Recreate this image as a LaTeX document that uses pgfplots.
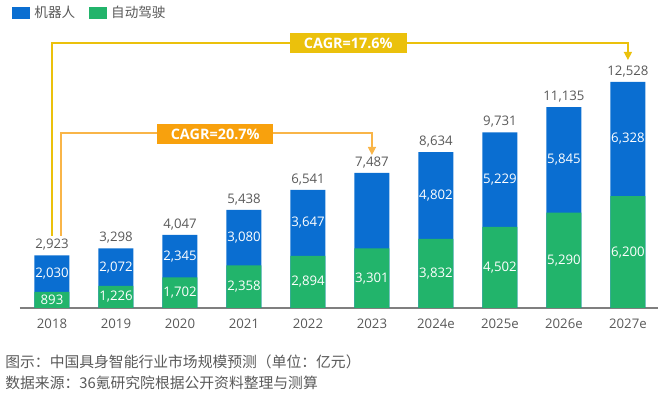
\documentclass[border=0pt]{standalone}
\usepackage{fontspec}
\usepackage{pgfplots}
\usepackage{pgfplotstable}
\pgfplotsset{compat=1.18}
\usetikzlibrary{arrows.meta}
\setmainfont{Open Sans}
\newfontfamily\cjk{Noto Sans CJK SC}
\definecolor{cBlue}{HTML}{0A6ED1}
\definecolor{cGreen}{HTML}{22B46B}
\definecolor{cGray}{HTML}{595959}
\definecolor{cAxis}{HTML}{7F7F7F}
\definecolor{cYellow}{HTML}{EBC10C}
\definecolor{cOrange}{HTML}{F8A10D}
\definecolor{cOrangeL}{HTML}{F9B548}

\pgfplotstableread{
x g b t
0 893 2030 2923
1 1226 2072 3298
2 1702 2345 4047
3 2358 3080 5438
4 2894 3647 6541
5 3301 4186 7487
6 3832 4802 8634
7 4502 5229 9731
8 5290 5845 11135
9 6200 6328 12528
}\datatable

\begin{document}
\begin{tikzpicture}
\begin{axis}[
  scale only axis,
  width=319pt, height=144pt,
  xmin=-0.5, xmax=9.47,
  ymin=0, ymax=15965,
  clip=false,
  axis y line=none,
  axis x line=bottom,
  x axis line style={-, cAxis, line width=1pt},
  xtick={0,...,9},
  xticklabels={2018,2019,2020,2021,2022,2023,2024e,2025e,2026e,2027e},
  major tick length=0pt,
  xticklabel style={text=cGray, font=\fontsize{6.6}{8}\selectfont, yshift=-2pt},
  /pgf/number format/.cd, 1000 sep={,}, assume math mode=true,
  /pgfplots/.cd,
  legend style={draw=none, fill=none, inner sep=0pt, at={(axis description cs:0,1)}, anchor=west, xshift=-4pt, yshift=3.5pt, font=\cjk\fontsize{6.8}{8}\selectfont, text=cGray, legend cell align=left},
  legend columns=2,
  legend image code/.code={\fill[#1] (0pt,-3.1pt) rectangle (9pt,3.1pt);},
  /tikz/every even column/.append style={column sep=5pt},
]
\addplot[ybar, bar width=17.5pt, bar shift=0pt, fill=cBlue, draw=none,
  nodes near coords,
  nodes near coords style={text=cGray, anchor=south, inner sep=1pt, yshift=1.2pt, font=\fontsize{6.6}{8}\selectfont}]
  table[x=x, y=t] {\datatable};
\addlegendentry{机器人}
\addplot[ybar, bar width=17.5pt, bar shift=0pt, fill=cGreen, draw=none]
  table[x=x, y=g] {\datatable};
\addlegendentry{自动驾驶}
\addplot[draw=none, mark=none, forget plot, nodes near coords, point meta=explicit,
  nodes near coords style={text=white, anchor=center, inner sep=0pt, font=\fontsize{6.6}{8}\selectfont}]
  table[x=x, y expr=\thisrow{g}/2, meta=g] {\datatable};
\addplot[draw=none, mark=none, forget plot, nodes near coords, point meta=explicit,
  skip coords between index={5}{6},
  nodes near coords style={text=white, anchor=center, inner sep=0pt, font=\fontsize{6.6}{8}\selectfont}]
  table[x=x, y expr=\thisrow{g}+\thisrow{b}/2, meta=b] {\datatable};

% CAGR brackets
\draw[cYellow, line width=0.7pt, -{Triangle[width=4pt,length=4pt]}]
  (axis cs:0,3991) -- (axis cs:0,14690) -- (axis cs:9,14690) -- (axis cs:9,13747);
\node[fill=cYellow, text=white, minimum width=58.5pt, minimum height=10pt, inner sep=0pt,
  font=\bfseries\fontsize{7.2}{8}\selectfont] at (axis cs:4.63,14690) {CAGR=17.6\%};
\draw[cOrangeL, line width=0.7pt, -{Triangle[width=4pt,length=4pt]}]
  (axis cs:0.14,3991) -- (axis cs:0.14,9700) -- (axis cs:5,9700) -- (axis cs:5,8481);
\node[fill=cOrange, text=white, minimum width=58pt, minimum height=10pt, inner sep=0pt,
  font=\bfseries\fontsize{7.2}{8}\selectfont] at (axis cs:2.55,9650) {CAGR=20.7\%};
\end{axis}
\node[anchor=west, text=cGray, font=\cjk\fontsize{7.4}{9}\selectfont, inner sep=0pt]
  at ([xshift=-7.5pt,yshift=-27pt]current axis.south west) {图示：中国具身智能行业市场规模预测（单位：亿元）};
\node[anchor=west, text=cGray, font=\cjk\fontsize{7.4}{9}\selectfont, inner sep=0pt]
  at ([xshift=-7.5pt,yshift=-37.5pt]current axis.south west) {数据来源：36氪研究院根据公开资料整理与测算};
\pgfresetboundingbox
\useasboundingbox ([xshift=-10pt,yshift=-43pt]current axis.south west) rectangle ([xshift=1pt,yshift=10pt]current axis.north east);
\end{tikzpicture}
\end{document}
